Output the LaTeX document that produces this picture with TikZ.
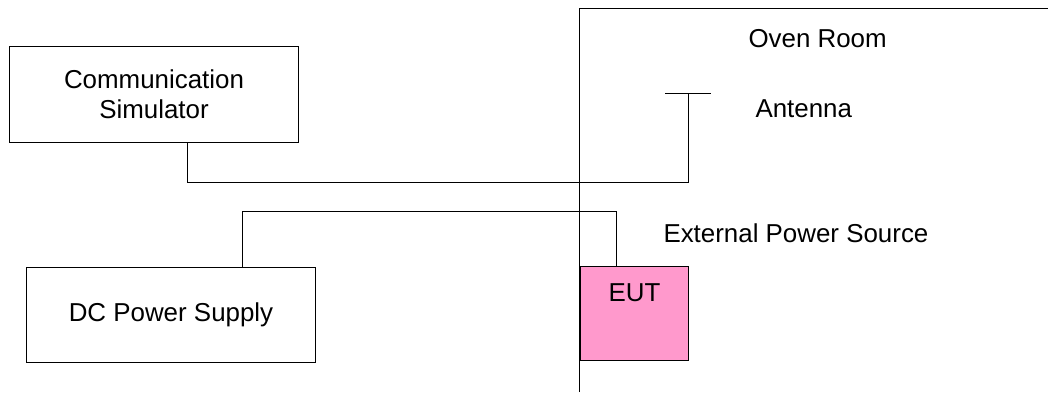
\documentclass[tikz,border=0pt]{standalone}
\usepackage{fontspec}
\setmainfont{Liberation Sans}
\definecolor{eutpink}{HTML}{FF99CC}
\tikzset{
  unitbox/.style={draw, line width=1bp, align=center, inner sep=0pt},
  roomtext/.style={anchor=base west, inner sep=0pt}
}
\begin{document}
\begin{tikzpicture}[x=1bp,y=-1bp, line width=1bp, font=\fontsize{26}{30}\selectfont]
\useasboundingbox (0,0) rectangle (1048,392);
% boxes
\node[unitbox, minimum width=288bp, minimum height=96bp] (sim) at (154,94) {Communication\\Simulator};
\node[unitbox, minimum width=288bp, minimum height=95bp] (dc) at (171,314.5) {DC Power Supply};
\node[unitbox, fill=eutpink, minimum width=108bp, minimum height=94bp, anchor=north west,
  label={[anchor=base, inner sep=0pt, yshift=-35bp]north:EUT}] (eut) at (580,266) {};
% oven room
\draw (579,392) |- (1048,8);
\node[roomtext] (room) at (748,47) {Oven Room};
\node[roomtext] (antlabel) at (755,117) {Antenna};
\node[roomtext] (ext) at (663,242) {External Power Source};
% antenna
\node[minimum width=45bp, minimum height=0pt, inner sep=0pt] (ant) at (688,93) {};
\draw (ant.west) -- (ant.east);
% cables
\draw ([xshift=33bp]sim.south) -- ++(0,40) -| (ant.center);
\draw ([xshift=71bp]dc.north) -- ++(0,-55) -| ([xshift=-18bp]eut.north);
\end{tikzpicture}
\end{document}
